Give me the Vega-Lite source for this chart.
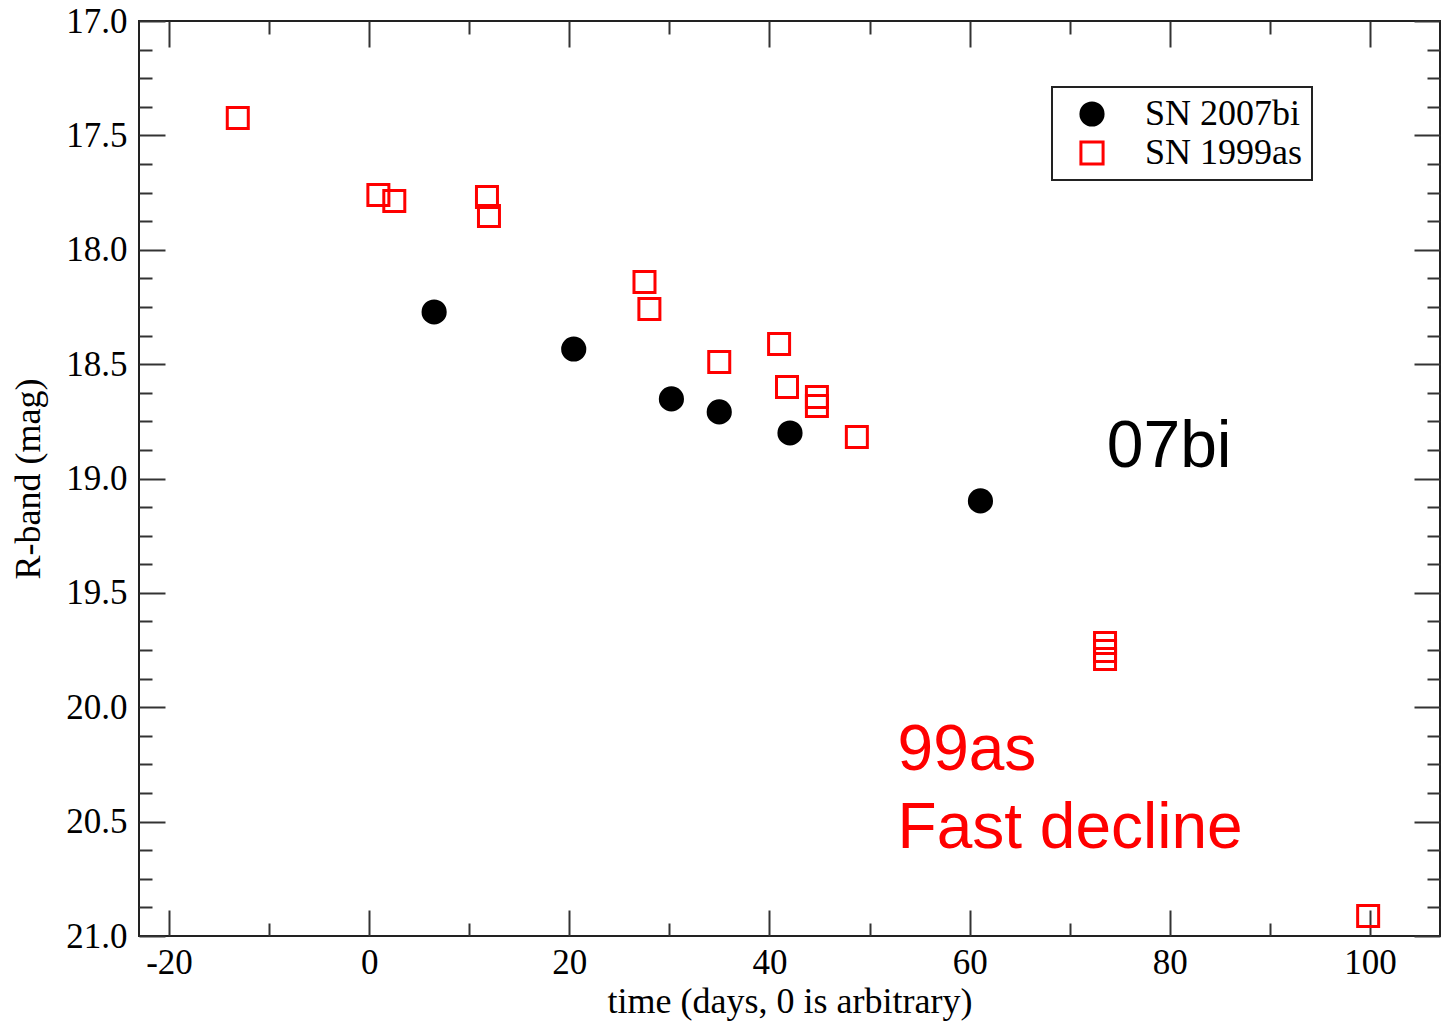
{
  "$schema": "https://vega.github.io/schema/vega-lite/v6.json",
  "width": 1301,
  "height": 915,
  "autosize": {"type": "none"},
  "padding": {"left": 139, "top": 21, "right": 3, "bottom": 86},
  "background": "white",
  "config": {
    "view": {"stroke": "#222", "strokeWidth": 2},
    "axis": {
      "grid": false,
      "domain": false,
      "tickColor": "#333",
      "tickWidth": 2,
      "labelFont": "Liberation Serif",
      "labelFontSize": 35,
      "labelColor": "black",
      "titleFont": "Liberation Serif",
      "titleFontSize": 36,
      "titleFontWeight": "normal",
      "titleColor": "black"
    },
    "legend": {
      "orient": "none",
      "legendX": 913,
      "legendY": 66,
      "title": null,
      "strokeColor": "#222",
      "strokeWidth": 2,
      "padding": 9,
      "symbolOffset": 13,
      "symbolSize": 491,
      "symbolStrokeWidth": 3,
      "labelFont": "Liberation Serif",
      "labelFontSize": 36,
      "labelColor": "black",
      "labelOffset": 35,
      "rowPadding": 3
    }
  },
  "datasets": {
    "sn2007bi": [
      {"t": 6.49, "mag": 18.272, "series": "SN 2007bi"},
      {"t": 20.44, "mag": 18.434, "series": "SN 2007bi"},
      {"t": 30.2, "mag": 18.652, "series": "SN 2007bi"},
      {"t": 34.98, "mag": 18.709, "series": "SN 2007bi"},
      {"t": 42.05, "mag": 18.801, "series": "SN 2007bi"},
      {"t": 61.08, "mag": 19.098, "series": "SN 2007bi"}
    ],
    "sn1999as": [
      {"t": -13.13, "mag": 17.424, "series": "SN 1999as"},
      {"t": 0.92, "mag": 17.761, "series": "SN 1999as"},
      {"t": 2.51, "mag": 17.787, "series": "SN 1999as"},
      {"t": 11.77, "mag": 17.769, "series": "SN 1999as"},
      {"t": 11.97, "mag": 17.852, "series": "SN 1999as"},
      {"t": 27.51, "mag": 18.141, "series": "SN 1999as"},
      {"t": 28.0, "mag": 18.259, "series": "SN 1999as"},
      {"t": 34.98, "mag": 18.491, "series": "SN 1999as"},
      {"t": 40.96, "mag": 18.412, "series": "SN 1999as"},
      {"t": 41.75, "mag": 18.6, "series": "SN 1999as"},
      {"t": 44.74, "mag": 18.644, "series": "SN 1999as"},
      {"t": 44.74, "mag": 18.683, "series": "SN 1999as"},
      {"t": 48.73, "mag": 18.819, "series": "SN 1999as"},
      {"t": 73.53, "mag": 19.719, "series": "SN 1999as"},
      {"t": 73.53, "mag": 19.754, "series": "SN 1999as"},
      {"t": 73.53, "mag": 19.789, "series": "SN 1999as"},
      {"t": 99.82, "mag": 20.913, "series": "SN 1999as"}
    ],
    "ann_black": [
      {"t": 73.7, "mag": 18.95, "label": "07bi"}
    ],
    "ann_red": [
      {"t": 52.8, "mag": 20.274, "label": "99as"},
      {"t": 52.8, "mag": 20.615, "label": "Fast decline"}
    ]
  },
  "layer": [
    {
      "data": {"name": "sn2007bi"},
      "mark": {"type": "point", "size": 491, "strokeWidth": 3, "opacity": 1},
      "encoding": {
        "x": {
          "field": "t", "type": "quantitative",
          "scale": {"domain": [-23, 107], "nice": false, "zero": false},
          "axis": {"orient": "bottom", "values": [-20, 0, 20, 40, 60, 80, 100], "labelExpr": "replace(datum.label, '\u2212', '-')", "tickSize": -26, "labelPadding": 35, "title": "time (days, 0 is arbitrary)", "titlePadding": 4}
        },
        "y": {
          "field": "mag", "type": "quantitative",
          "scale": {"domain": [17, 21], "reverse": true, "nice": false, "zero": false},
          "axis": {"orient": "left", "values": [17, 17.5, 18, 18.5, 19, 19.5, 20, 20.5, 21], "format": ".1f", "tickSize": -26, "labelPadding": 38, "title": "R-band (mag)", "titlePadding": 18}
        },
        "shape": {"field": "series", "type": "nominal", "scale": {"domain": ["SN 2007bi", "SN 1999as"], "range": ["circle", "square"]}},
        "fill": {"field": "series", "type": "nominal", "scale": {"domain": ["SN 2007bi", "SN 1999as"], "range": ["#000000", "transparent"]}},
        "stroke": {"field": "series", "type": "nominal", "scale": {"domain": ["SN 2007bi", "SN 1999as"], "range": ["#000000", "#ff0000"]}}
      }
    },
    {
      "data": {"name": "sn1999as"},
      "mark": {"type": "point", "size": 441, "strokeWidth": 3, "opacity": 1},
      "encoding": {
        "x": {
          "field": "t", "type": "quantitative",
          "axis": {"orient": "bottom", "values": [-10, 10, 30, 50, 70, 90], "tickSize": -13, "labels": false, "title": null}
        },
        "y": {
          "field": "mag", "type": "quantitative",
          "axis": {"orient": "left", "values": [17.125, 17.25, 17.375, 17.625, 17.75, 17.875, 18.125, 18.25, 18.375, 18.625, 18.75, 18.875, 19.125, 19.25, 19.375, 19.625, 19.75, 19.875, 20.125, 20.25, 20.375, 20.625, 20.75, 20.875], "tickSize": -13, "labels": false, "title": null}
        },
        "shape": {"field": "series", "type": "nominal"},
        "fill": {"field": "series", "type": "nominal"},
        "stroke": {"field": "series", "type": "nominal"}
      }
    },
    {
      "data": {"name": "ann_black"},
      "mark": {"type": "text", "align": "left", "baseline": "alphabetic", "font": "Liberation Sans", "fontSize": 66, "color": "#000000"},
      "encoding": {
        "x": {"field": "t", "type": "quantitative", "axis": {"orient": "top", "values": [-20, 0, 20, 40, 60, 80, 100], "tickSize": -26, "labels": false, "title": null}},
        "y": {"field": "mag", "type": "quantitative", "axis": {"orient": "right", "values": [17, 17.5, 18, 18.5, 19, 19.5, 20, 20.5, 21], "tickSize": -26, "labels": false, "title": null}},
        "text": {"field": "label", "type": "nominal"}
      }
    },
    {
      "data": {"name": "ann_red"},
      "mark": {"type": "text", "align": "left", "baseline": "alphabetic", "font": "Liberation Sans", "fontSize": 64, "color": "#ff0000"},
      "encoding": {
        "x": {"field": "t", "type": "quantitative", "axis": {"orient": "top", "values": [-10, 10, 30, 50, 70, 90], "tickSize": -13, "labels": false, "title": null}},
        "y": {"field": "mag", "type": "quantitative", "axis": {"orient": "right", "values": [17.125, 17.25, 17.375, 17.625, 17.75, 17.875, 18.125, 18.25, 18.375, 18.625, 18.75, 18.875, 19.125, 19.25, 19.375, 19.625, 19.75, 19.875, 20.125, 20.25, 20.375, 20.625, 20.75, 20.875], "tickSize": -13, "labels": false, "title": null}},
        "text": {"field": "label", "type": "nominal"}
      }
    }
  ],
  "resolve": {"axis": {"x": "independent", "y": "independent"}}
}
